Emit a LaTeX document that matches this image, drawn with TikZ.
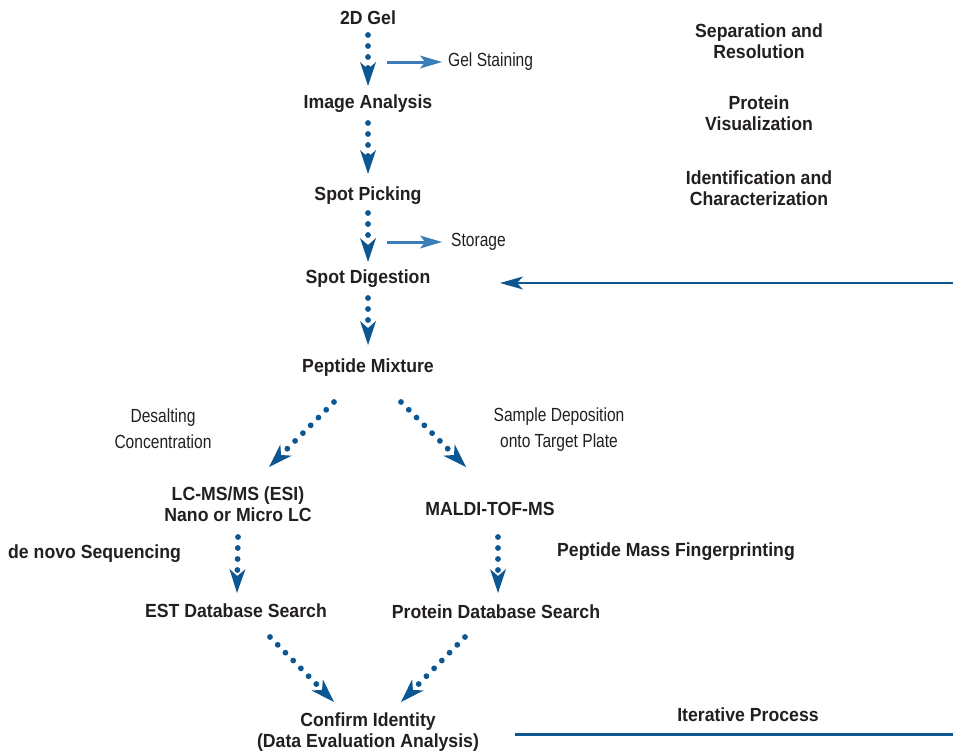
\documentclass[tikz,border=0pt]{standalone}
\usepackage{fontspec}
\setmainfont{Liberation Sans}
\newfontfamily\regfont{Liberation Sans}[FakeStretch=0.82]
\newfontfamily\bldfont{Liberation Sans}[FakeStretch=0.93]
\usetikzlibrary{arrows.meta}
\definecolor{dblue}{RGB}{12,87,145}
\definecolor{lblue}{RGB}{60,125,185}
\definecolor{ink}{RGB}{35,31,32}
\begin{document}
\begin{tikzpicture}[x=1pt,y=-1pt,
 bl/.style={font=\bldfont\bfseries\fontsize{19}{20.5}\selectfont, text=ink, align=center, inner sep=0pt},
 rg/.style={font=\regfont\fontsize{19}{26}\selectfont, text=ink, align=center, inner sep=0pt},
 dotarrow/.style={draw=dblue, line width=5.8pt, line cap=round, dash pattern=on 0pt off 11pt,
   -{Stealth[length=24pt,width=16pt,inset=7pt,line width=0pt,fill=dblue]}},
 sidearrow/.style={draw=lblue, line width=3pt, -{Stealth[length=22pt,width=13pt,inset=5pt,line width=0pt,fill=lblue]}},
 fbarrow/.style={draw=dblue, line width=2.8pt, -{Stealth[length=23pt,width=13pt,inset=6pt,line width=0pt,fill=dblue]}},
 itline/.style={draw=dblue, line width=3pt}
]
\useasboundingbox (0,0) rectangle (953,753);
% main column
\node[bl] (gel) at (368,18) {2D Gel};
\node[bl] (ia) at (368,104) {Image Analysis};
\node[bl] (sp) at (368,196) {Spot Picking};
\node[bl] (sd) at (368,279) {Spot Digestion};
\node[bl] (pm) at (368,368) {Peptide Mixture};
\node[bl] (lc) at (238,504) {LC-MS/MS (ESI)\\Nano or Micro LC};
\node[bl] (md) at (490,509) {MALDI-TOF-MS};
\node[bl] (est) at (236,611) {EST Database Search};
\node[bl] (pdb) at (496,612) {Protein Database Search};
\node[bl] (ci) at (368,732) {Confirm Identity\\(Data Evaluation Analysis)};
% right column
\node[bl] (sr) at (759,41) {Separation and\\Resolution};
\node[bl] (pv) at (759,113) {Protein\\Visualization};
\node[bl] (ic) at (759,188) {Identification and\\Characterization};
\node[bl,anchor=west] (dn) at (8,554) {de novo Sequencing};
\node[bl] (pmf) at (676,552) {Peptide Mass Fingerprinting};
\node[bl] (it) at (748,715) {Iterative Process};
% regular labels
\node[rg,anchor=west] (gs) at (448,62) {Gel Staining};
\node[rg,anchor=west] (st) at (451,242) {Storage};
\node[rg] (dc) at (163,429) {Desalting\\Concentration};
\node[rg] (sdp) at (559,430) {Sample Deposition\\onto Target Plate};
% dotted connectors
\draw[dotarrow] ([shift={(0,17)}]gel.center) -- ([shift={(0,-18)}]ia.center);
\draw[dotarrow] ([shift={(0,19)}]ia.center) -- ([shift={(0,-22)}]sp.center);
\draw[dotarrow] ([shift={(0,17)}]sp.center) -- ([shift={(0,-17)}]sd.center);
\draw[dotarrow] ([shift={(0,19)}]sd.center) -- ([shift={(0,-23)}]pm.center);
\draw[dotarrow] ([shift={(-34,34)}]pm.center) -- ([shift={(31,-37)}]lc.center);
\draw[dotarrow] ([shift={(33,34)}]pm.center) -- ([shift={(-24,-42)}]md.center);
\draw[dotarrow] ([shift={(0,33)}]lc.center) -- ([shift={(1,-18)}]est.center);
\draw[dotarrow] ([shift={(8,28)}]md.center) -- ([shift={(2,-19)}]pdb.center);
\draw[dotarrow] ([shift={(34,26)}]est.center) -- ([shift={(-34,-30)}]ci.center);
\draw[dotarrow] ([shift={(-31,25)}]pdb.center) -- ([shift={(33,-30)}]ci.center);
% side arrows
\draw[sidearrow] ([shift={(-61,0)}]gs.west) -- ([shift={(-6,0)}]gs.west);
\draw[sidearrow] ([shift={(-64,0)}]st.west) -- ([shift={(-9,0)}]st.west);
% feedback
\coordinate (fb) at (953,283);
\draw[fbarrow] (fb) -- ([shift={(132,4)}]sd.center);
\coordinate (il1) at (515,734);
\coordinate (il2) at (953,734);
\draw[itline] (il1) -- (il2);
\end{tikzpicture}
\end{document}
